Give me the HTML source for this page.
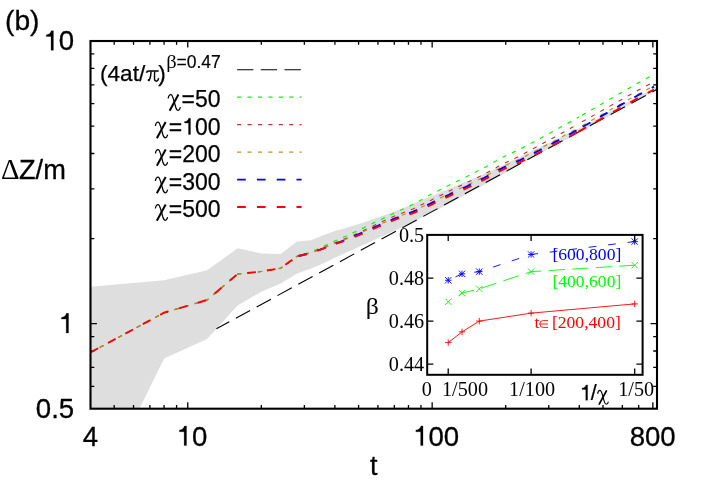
<!DOCTYPE html>
<html><head><meta charset="utf-8"><title>chart</title>
<style>html,body{margin:0;padding:0;background:#fff;width:706px;height:494px;overflow:hidden}</style>
</head><body>
<div style="position:absolute;left:0;top:0;width:706px;height:494px;will-change:transform">
<svg width="706" height="494" viewBox="0 0 706 494" style="position:absolute;left:0;top:0">
<rect width="706" height="494" fill="#fff"/>
<polygon fill="#dedede" points="90.5,286.7 164.1,280.3 207.1,270.3 237.6,248.3 261.3,253.5 280.7,254.0 297.0,241.5 311.2,240.2 323.7,235.1 334.9,230.9 342.5,228.9 363.7,222.5 399.2,209.7 440.0,192.5 490.0,171.5 530.0,152.0 580.0,127.7 657.0,86.5 657.0,89.6 580.0,132.3 530.0,158.5 490.0,181.8 440.0,208.5 400.0,228.2 373.7,240.2 334.9,257.7 323.7,263.2 311.2,268.6 297.0,273.6 280.7,283.5 261.3,291.7 237.6,305.6 207.1,339.0 164.1,358.5 139.4,408.7 90.5,408.7"/>
<path d="M114.18 408.70 v-3.80 M114.18 41.00 v3.80 M133.54 408.70 v-3.80 M133.54 41.00 v3.80 M149.90 408.70 v-3.80 M149.90 41.00 v3.80 M164.07 408.70 v-3.80 M164.07 41.00 v3.80 M176.57 408.70 v-3.80 M176.57 41.00 v3.80 M187.76 408.70 v-6.40 M187.76 41.00 v6.40 M261.33 408.70 v-3.80 M261.33 41.00 v3.80 M304.36 408.70 v-3.80 M304.36 41.00 v3.80 M334.90 408.70 v-3.80 M334.90 41.00 v3.80 M358.58 408.70 v-3.80 M358.58 41.00 v3.80 M377.94 408.70 v-3.80 M377.94 41.00 v3.80 M394.30 408.70 v-3.80 M394.30 41.00 v3.80 M408.47 408.70 v-3.80 M408.47 41.00 v3.80 M420.97 408.70 v-3.80 M420.97 41.00 v3.80 M432.16 408.70 v-6.40 M432.16 41.00 v6.40 M505.73 408.70 v-3.80 M505.73 41.00 v3.80 M548.76 408.70 v-3.80 M548.76 41.00 v3.80 M579.30 408.70 v-3.80 M579.30 41.00 v3.80 M602.98 408.70 v-3.80 M602.98 41.00 v3.80 M622.34 408.70 v-3.80 M622.34 41.00 v3.80 M638.70 408.70 v-3.80 M638.70 41.00 v3.80 M652.87 408.70 v-6.40 M652.87 41.00 v6.40 M90.50 386.32 h3.80 M657.00 386.32 h-3.80 M90.50 367.40 h3.80 M657.00 367.40 h-3.80 M90.50 351.02 h3.80 M657.00 351.02 h-3.80 M90.50 336.56 h3.80 M657.00 336.56 h-3.80 M90.50 323.63 h6.40 M657.00 323.63 h-6.40 M90.50 238.56 h3.80 M657.00 238.56 h-3.80 M90.50 188.79 h3.80 M657.00 188.79 h-3.80 M90.50 153.49 h3.80 M657.00 153.49 h-3.80 M90.50 126.10 h3.80 M657.00 126.10 h-3.80 M90.50 103.72 h3.80 M657.00 103.72 h-3.80 M90.50 84.80 h3.80 M657.00 84.80 h-3.80 M90.50 68.42 h3.80 M657.00 68.42 h-3.80 M90.50 53.96 h3.80 M657.00 53.96 h-3.80 " stroke="#000" stroke-width="1.3" fill="none"/>
<path d="M216.40 328.80 L229.32 321.78 M235.82 318.25 L250.14 310.46 M256.64 306.93 L270.96 299.15 M277.46 295.61 L291.79 287.83 M298.29 284.29 L312.61 276.51 M319.11 272.98 L333.43 265.19 M339.93 261.66 L354.25 253.88 M360.76 250.34 L375.08 242.56 M381.58 239.02 L395.90 231.24 M402.40 227.71 L416.72 219.92 M423.23 216.39 L437.55 208.61 M444.05 205.07 L458.37 197.29 M464.87 193.76 L479.19 185.97 M485.70 182.44 L500.02 174.65 M506.52 171.12 L520.84 163.34 M527.34 159.80 L541.66 152.02 M548.17 148.49 L562.49 140.70 M568.99 137.17 L583.31 129.38 M589.81 125.85 L604.13 118.07 M610.64 114.53 L624.96 106.75 M631.46 103.22 L645.78 95.43 M652.28 91.90 L657.00 89.33 " stroke="#000" stroke-width="1.1" fill="none"/>
<path d="M90.50 352.40 L94.20 350.41 M99.74 347.42 L103.44 345.42 M108.98 342.43 L112.68 340.44 M118.22 337.45 L121.92 335.45 M127.47 332.46 L131.16 330.47 M136.71 327.48 L140.40 325.48 M145.95 322.49 L149.64 320.50 M155.19 317.51 L158.89 315.51 M164.46 312.59 L168.49 311.40 M174.53 309.62 L178.56 308.43 M184.60 306.65 L188.63 305.46 M194.67 303.67 L198.70 302.48 M204.74 300.70 L207.10 300.00 L208.42 298.87 M213.22 294.78 L216.41 292.06 M221.21 287.97 L224.40 285.25 M229.20 281.16 L232.40 278.44 M237.19 274.35 L237.60 274.00 L241.24 273.62 M247.51 272.96 L251.68 272.51 M257.95 271.85 L261.30 271.50 L262.12 271.36 M268.33 270.30 L272.47 269.60 M278.68 268.54 L280.70 268.20 L282.44 266.93 M287.53 263.22 L290.92 260.74 M296.01 257.03 L297.00 256.30 M297.00 256.30 L298.40 255.86 M304.42 253.98 L308.42 252.73 M314.29 250.46 L318.11 248.71 M323.84 246.09 L327.64 244.32 M333.35 241.65 L334.90 240.93 L337.22 240.01 M343.02 237.57 L346.82 235.78 M352.52 233.09 L356.32 231.30 M362.01 228.60 L365.78 226.76 M371.44 223.99 L375.22 222.15 M380.90 219.43 L384.70 217.63 M390.39 214.93 L394.18 213.13 M399.92 210.53 L403.73 208.76 M409.44 206.10 L413.25 204.33 M418.74 201.25 L422.40 199.19 M427.89 196.10 L431.00 194.35 L431.10 194.30 L431.56 194.06 M437.18 191.21 L440.92 189.30 M446.54 186.45 L448.80 185.30 L450.30 184.57 M455.96 181.82 L459.74 179.98 M465.41 177.23 L466.50 176.70 L469.16 175.34 M474.78 172.49 L478.52 170.58 M484.14 167.73 L484.20 167.69 L487.79 165.65 M493.26 162.53 L496.91 160.46 M502.39 157.34 L502.70 157.16 L506.18 155.54 M511.90 152.89 L515.70 151.12 M521.38 148.38 L525.09 146.42 M530.66 143.47 L534.37 141.51 M539.91 138.51 L543.59 136.49 M549.12 133.46 L552.80 131.44 M558.31 128.38 L560.00 127.44 L561.99 126.37 M567.54 123.38 L571.23 121.38 M576.71 118.26 L579.00 116.95 M582.00 115.23 L585.64 113.14 M591.11 110.00 L594.75 107.91 M600.22 104.78 L603.86 102.69 M609.32 99.55 L612.97 97.46 M618.43 94.33 L622.07 92.24 M627.54 89.10 L631.18 87.01 M636.65 83.88 L638.00 83.10 L640.31 81.83 M645.84 78.81 L649.53 76.79 " stroke="#00ff00" stroke-width="1.2" fill="none"/>
<path d="M90.50 352.40 L94.20 350.41 M99.74 347.42 L103.44 345.42 M108.98 342.43 L112.68 340.44 M118.22 337.45 L121.92 335.45 M127.47 332.46 L131.16 330.47 M136.71 327.48 L140.40 325.48 M145.95 322.49 L149.64 320.50 M155.19 317.51 L158.89 315.51 M164.46 312.59 L168.49 311.40 M174.53 309.62 L178.56 308.43 M184.60 306.65 L188.63 305.46 M194.67 303.67 L198.70 302.48 M204.74 300.70 L207.10 300.00 L208.42 298.87 M213.22 294.78 L216.41 292.06 M221.21 287.97 L224.40 285.25 M229.20 281.16 L232.40 278.44 M237.19 274.35 L237.60 274.00 L241.24 273.62 M247.51 272.96 L251.68 272.51 M257.95 271.85 L261.30 271.50 L262.12 271.36 M268.33 270.30 L272.47 269.60 M278.68 268.54 L280.70 268.20 L282.44 266.93 M287.53 263.22 L290.92 260.74 M296.01 257.03 L297.00 256.30 M297.00 256.30 L298.43 255.97 M304.53 254.40 L308.59 253.32 M314.53 251.26 L318.42 249.67 M324.25 247.28 L328.12 245.66 M333.91 243.18 L334.90 242.75 L337.84 241.68 M343.69 239.35 L347.53 237.66 M353.30 235.13 L357.14 233.44 M362.86 230.78 L366.65 228.98 M372.34 226.28 L376.14 224.48 M381.85 221.83 L385.67 220.07 M391.39 217.43 L394.50 216.00 L395.22 215.71 M401.09 213.43 L405.01 211.94 M410.90 209.69 L413.40 208.74 L414.78 208.08 M420.44 205.33 L424.22 203.49 M429.88 200.73 L431.10 200.14 L433.64 198.86 M439.27 196.03 L443.02 194.14 M448.65 191.30 L448.80 191.22 L452.43 189.48 M458.13 186.79 L461.94 185.02 M467.63 182.33 L471.41 180.49 M477.07 177.72 L480.84 175.87 M486.44 173.00 L490.12 170.98 M495.65 167.94 L499.00 166.10 L499.32 165.91 M504.87 162.93 L508.66 161.14 M514.36 158.44 L518.16 156.65 M523.74 153.74 L527.44 151.75 M532.99 148.77 L536.00 147.15 L536.69 146.79 M542.23 143.79 L545.93 141.78 M551.46 138.78 L554.40 137.19 L555.15 136.78 M560.67 133.74 L564.35 131.71 M569.87 128.67 L571.80 127.60 L572.00 127.49 L573.54 126.62 M582.00 121.85 L585.66 119.79 M591.15 116.70 L594.81 114.64 M600.30 111.54 L603.95 109.48 M609.44 106.39 L613.10 104.33 M618.59 101.24 L622.25 99.17 M627.74 96.08 L631.40 94.02 M636.89 90.93 L638.00 90.30 L640.58 88.93 M646.14 85.97 L649.85 84.00 " stroke="#c03030" stroke-width="1.1" fill="none"/>
<path d="M90.50 352.40 L94.20 350.41 M99.74 347.42 L103.44 345.42 M108.98 342.43 L112.68 340.44 M118.22 337.45 L121.92 335.45 M127.47 332.46 L131.16 330.47 M136.71 327.48 L140.40 325.48 M145.95 322.49 L149.64 320.50 M155.19 317.51 L158.89 315.51 M164.46 312.59 L168.49 311.40 M174.53 309.62 L178.56 308.43 M184.60 306.65 L188.63 305.46 M194.67 303.67 L198.70 302.48 M204.74 300.70 L207.10 300.00 L208.42 298.87 M213.22 294.78 L216.41 292.06 M221.21 287.97 L224.40 285.25 M229.20 281.16 L232.40 278.44 M237.19 274.35 L237.60 274.00 L241.24 273.62 M247.51 272.96 L251.68 272.51 M257.95 271.85 L261.30 271.50 L262.12 271.36 M268.33 270.30 L272.47 269.60 M278.68 268.54 L280.70 268.20 L282.44 266.93 M287.53 263.22 L290.92 260.74 M296.01 257.03 L297.00 256.30 M297.00 256.30 L298.43 255.97 M304.57 254.54 L308.66 253.59 M314.65 251.70 L318.59 250.22 M324.42 247.86 L328.29 246.23 M334.10 243.78 L334.90 243.44 L338.05 242.34 M343.92 240.07 L347.78 238.43 M353.58 235.96 L357.45 234.32 M363.20 231.75 L367.04 230.05 M372.79 227.48 L376.63 225.77 M382.41 223.27 L386.26 221.60 M392.04 219.10 L394.50 218.04 L395.93 217.50 M401.83 215.29 L405.76 213.81 M411.65 211.59 L413.40 210.94 L415.51 209.94 M421.20 207.24 L425.00 205.44 M430.69 202.74 L431.10 202.55 L434.47 200.90 M440.12 198.12 L443.89 196.27 M449.55 193.51 L453.36 191.73 M459.06 189.05 L462.86 187.27 M468.55 184.55 L472.31 182.69 M477.97 179.91 L481.73 178.06 M487.31 175.12 L490.98 173.09 M496.50 170.04 L500.17 168.01 M505.81 165.22 L509.65 163.50 M515.40 160.93 L519.23 159.21 M524.85 156.36 L528.00 154.75 L528.59 154.45 M534.18 151.56 L536.70 150.26 L537.91 149.61 M543.46 146.64 L547.16 144.65 M552.71 141.68 L554.40 140.77 L556.41 139.68 M561.94 136.66 L565.00 135.00 L565.63 134.66 M571.21 131.74 L571.80 131.43 L574.89 129.70 M582.00 125.72 L585.67 123.67 M591.16 120.60 L594.83 118.55 M600.33 115.47 L603.99 113.42 M609.49 110.35 L613.16 108.30 M618.66 105.22 L622.32 103.17 M627.82 100.09 L631.49 98.04 M636.98 94.97 L638.00 94.40 L640.68 92.98 M646.24 90.02 L649.95 88.05 " stroke="#ba8f25" stroke-width="1.2" fill="none"/>
<path d="M298.43 255.97 L306.91 254.00 M317.46 250.65 L323.70 248.30 L325.60 247.57 M335.92 243.49 L341.00 241.73 L344.07 240.44 M354.30 236.14 L358.80 234.24 L360.00 233.68 L362.28 232.67 M372.43 228.19 L377.20 226.09 L380.41 224.72 M390.61 220.35 L394.50 218.68 L398.69 217.13 M409.10 213.26 L413.40 211.66 L417.12 209.92 M427.17 205.20 L431.10 203.35 L435.01 201.45 M445.00 196.59 L448.80 194.74 L452.85 192.86 M462.93 188.19 L466.50 186.53 L470.78 184.45 M480.77 179.60 L484.20 177.93 L488.48 175.59 M498.23 170.27 L502.70 167.83 L506.00 166.37 M516.15 161.90 L519.70 160.33 L524.00 158.15 M533.91 153.15 L536.70 151.73 L541.63 149.14 M551.46 143.98 L554.40 142.43 L559.14 139.90 M568.92 134.64 L571.80 133.08 L576.50 130.38 M582.80 126.77 L590.35 122.45 M599.98 116.92 L607.52 112.60 M617.15 107.07 L620.00 105.44 L624.71 102.77 M634.37 97.30 L638.00 95.25 L642.00 93.12 M651.79 87.88 L654.00 86.70 " stroke="#0000ff" stroke-width="1.9" fill="none"/>
<path d="M90.50 352.40 L98.16 348.27 M107.93 343.00 L115.58 338.87 M125.35 333.60 L133.01 329.47 M142.78 324.20 L150.44 320.07 M160.21 314.80 L164.10 312.70 L168.20 311.49 M178.85 308.34 L187.19 305.88 M197.83 302.74 L206.18 300.27 M214.82 293.42 L221.44 287.78 M229.88 280.58 L236.51 274.93 M247.21 272.99 L255.86 272.07 M266.85 270.56 L275.43 269.10 M285.34 264.81 L292.37 259.68 M298.43 255.97 L306.91 254.00 M317.46 250.65 L323.70 248.30 L325.60 247.57 M335.99 243.66 L341.00 242.10 L344.22 240.85 M354.57 236.84 L358.80 235.20 L362.61 233.54 M372.79 229.12 L377.20 227.20 L380.79 225.69 M391.02 221.37 L394.50 219.90 L399.12 218.21 M409.55 214.41 L413.40 213.00 L417.57 211.07 M427.64 206.40 L431.10 204.80 L435.51 202.68 M445.52 197.88 L448.80 196.30 L453.40 194.20 M463.49 189.58 L466.50 188.20 L471.36 185.87 M481.37 181.06 L484.20 179.70 L489.09 177.06 M498.85 171.78 L502.70 169.70 L506.67 167.97 M516.84 163.54 L519.70 162.30 L524.70 159.80 M534.62 154.84 L536.70 153.80 L542.36 150.86 M552.21 145.74 L554.40 144.60 L559.91 141.69 M569.72 136.50 L571.80 135.40 L577.33 132.28 M578.60 131.57 L586.18 127.30 M595.85 121.85 L603.43 117.58 M613.10 112.13 L620.68 107.86 M630.35 102.41 L637.93 98.14 M647.73 92.93 L654.00 89.59 " stroke="#ff0000" stroke-width="1.9" fill="none"/>
<path d="M237.10 69.75 L253.40 69.75 M260.80 69.75 L277.10 69.75 M284.50 69.75 L300.80 69.75 " stroke="#000" stroke-width="1.05" fill="none"/>
<path d="M237.10 97.20 L241.20 97.20 M247.52 97.20 L251.62 97.20 M257.94 97.20 L262.04 97.20 M268.36 97.20 L272.46 97.20 M278.78 97.20 L282.88 97.20 M289.20 97.20 L293.30 97.20 M299.62 97.20 L301.60 97.20 " stroke="#00ff00" stroke-width="1.2" fill="none"/>
<path d="M237.10 124.60 L241.20 124.60 M247.52 124.60 L251.62 124.60 M257.94 124.60 L262.04 124.60 M268.36 124.60 L272.46 124.60 M278.78 124.60 L282.88 124.60 M289.20 124.60 L293.30 124.60 M299.62 124.60 L301.60 124.60 " stroke="#c03030" stroke-width="1.1" fill="none"/>
<path d="M237.10 152.20 L241.20 152.20 M247.52 152.20 L251.62 152.20 M257.94 152.20 L262.04 152.20 M268.36 152.20 L272.46 152.20 M278.78 152.20 L282.88 152.20 M289.20 152.20 L293.30 152.20 M299.62 152.20 L301.60 152.20 " stroke="#ba8f25" stroke-width="1.3" fill="none"/>
<path d="M237.10 179.60 L245.80 179.60 M256.90 179.60 L265.60 179.60 M276.70 179.60 L285.40 179.60 M296.50 179.60 L301.60 179.60 " stroke="#0000ff" stroke-width="1.85" fill="none"/>
<path d="M237.10 207.00 L245.80 207.00 M256.90 207.00 L265.60 207.00 M276.70 207.00 L285.40 207.00 M296.50 207.00 L301.60 207.00 " stroke="#ff0000" stroke-width="1.85" fill="none"/>
<rect x="90.50" y="41.00" width="566.50" height="367.70" fill="none" stroke="#000" stroke-width="2.1"/>
<path d="M455.47 276.87 L462.03 273.80 L462.58 273.73 M474.29 272.27 L479.30 271.65 L481.91 270.78 M493.11 267.06 L500.52 264.61 M511.71 260.89 L519.12 258.43 M530.32 254.71 L531.10 254.45 L538.02 253.59 M549.73 252.13 L557.47 251.17 M569.18 249.71 L576.92 248.74 M588.63 247.29 L596.37 246.32 M608.08 244.86 L615.82 243.90 M627.53 242.44 L634.70 241.55 " stroke="#0000ff" stroke-width="0.9" fill="none"/>
<path d="M458.75 295.20 L462.03 293.15 L473.90 290.19 M481.04 288.27 L496.32 283.20 M503.34 280.87 L518.62 275.79 M525.65 273.46 L531.10 271.65 L541.43 271.01 M548.82 270.55 L564.89 269.55 M572.27 269.09 L588.34 268.09 M595.73 267.63 L611.80 266.63 M619.18 266.17 L634.70 265.20 " stroke="#00ff00" stroke-width="0.9" fill="none"/>
<path d="M448.22 342.60 L462.03 331.85 L479.30 321.10 L531.10 313.14 L634.70 303.90" stroke="#ff0000" stroke-width="0.9" fill="none"/>
<path d="M445.02 280.25 h6.40 M448.22 277.05 v6.40 M445.02 277.05 l6.40 6.40 M445.02 283.45 l6.40 -6.40 M458.83 273.80 h6.40 M462.03 270.60 v6.40 M458.83 270.60 l6.40 6.40 M458.83 277.00 l6.40 -6.40 M476.10 271.65 h6.40 M479.30 268.45 v6.40 M476.10 268.45 l6.40 6.40 M476.10 274.85 l6.40 -6.40 M527.90 254.45 h6.40 M531.10 251.25 v6.40 M527.90 251.25 l6.40 6.40 M527.90 257.65 l6.40 -6.40 M631.50 241.55 h6.40 M634.70 238.35 v6.40 M631.50 238.35 l6.40 6.40 M631.50 244.75 l6.40 -6.40 " stroke="#0000ff" stroke-width="0.9" fill="none"/>
<path d="M445.02 298.55 l6.40 6.40 M445.02 304.95 l6.40 -6.40 M458.83 289.95 l6.40 6.40 M458.83 296.35 l6.40 -6.40 M476.10 285.65 l6.40 6.40 M476.10 292.05 l6.40 -6.40 M527.90 268.45 l6.40 6.40 M527.90 274.85 l6.40 -6.40 M631.50 262.00 l6.40 6.40 M631.50 268.40 l6.40 -6.40 " stroke="#00ff00" stroke-width="0.9" fill="none"/>
<path d="M445.02 342.60 h6.40 M448.22 339.40 v6.40 M458.83 331.85 h6.40 M462.03 328.65 v6.40 M476.10 321.10 h6.40 M479.30 317.90 v6.40 M527.90 313.14 h6.40 M531.10 309.94 v6.40 M631.50 303.90 h6.40 M634.70 300.70 v6.40 " stroke="#ff0000" stroke-width="0.9" fill="none"/>
<path d="M448.22 374.80 v-6.2 M448.22 234.90 v6.2 M531.10 374.80 v-6.2 M531.10 234.90 v6.2 M634.70 374.80 v-6.2 M634.70 234.90 v6.2 M427.20 364.10 h6.2 M642.60 364.10 h-6.2 M427.20 321.10 h6.2 M642.60 321.10 h-6.2 M427.20 278.10 h6.2 M642.60 278.10 h-6.2 " stroke="#000" stroke-width="1.3" fill="none"/>
<rect x="427.20" y="234.90" width="215.40" height="139.90" fill="none" stroke="#000" stroke-width="2.0"/>
<text x="5.00" y="29.70" style="font-family:'Liberation Sans',sans-serif;font-size:28.20px" text-anchor="start" fill="#000" stroke="#000" stroke-width="0.31" >(b)</text>
<path d="M53.42 50.30 L51.04 50.30 L51.04 36.50 L46.30 36.50 L46.30 34.79 C48.75 34.71 50.41 33.46 51.37 30.73 L53.42 30.73 Z" fill="#000" stroke="#000" stroke-width="0.25"/>
<text x="58.85" y="50.30" style="font-family:'Liberation Sans',sans-serif;font-size:27.60px" text-anchor="start" fill="#000" stroke="#000" stroke-width="0.30" >0</text>
<path d="M68.56 332.90 L66.19 332.90 L66.19 319.10 L61.44 319.10 L61.44 317.39 C63.90 317.31 65.55 316.06 66.52 313.33 L68.56 313.33 Z" fill="#000" stroke="#000" stroke-width="0.25"/>
<text x="74.20" y="418.20" style="font-family:'Liberation Sans',sans-serif;font-size:27.60px" text-anchor="end" fill="#000" stroke="#000" stroke-width="0.30" >0.5</text>
<text transform="translate(0.95 179.00) scale(0.975 1)" style="font-family:'Liberation Serif',serif;font-size:29.60px" fill="#000">Δ</text>
<text x="19.00" y="179.00" style="font-family:'Liberation Sans',sans-serif;font-size:27.20px" text-anchor="start" fill="#000" stroke="#000" stroke-width="0.30" >Z/m</text>
<text x="90.50" y="445.60" style="font-family:'Liberation Sans',sans-serif;font-size:27.60px" text-anchor="middle" fill="#000" stroke="#000" stroke-width="0.30" >4</text>
<path d="M186.51 445.60 L184.13 445.60 L184.13 431.80 L179.39 431.80 L179.39 430.09 C181.84 430.01 183.50 428.76 184.47 426.03 L186.51 426.03 Z" fill="#000" stroke="#000" stroke-width="0.25"/>
<text x="191.95" y="445.60" style="font-family:'Liberation Sans',sans-serif;font-size:27.60px" text-anchor="start" fill="#000" stroke="#000" stroke-width="0.30" >0</text>
<path d="M423.01 445.60 L420.63 445.60 L420.63 431.80 L415.89 431.80 L415.89 430.09 C418.34 430.01 420.00 428.76 420.97 426.03 L423.01 426.03 Z" fill="#000" stroke="#000" stroke-width="0.25"/>
<text x="428.45" y="445.60" style="font-family:'Liberation Sans',sans-serif;font-size:27.60px" text-anchor="start" fill="#000" stroke="#000" stroke-width="0.30" >00</text>
<text x="652.70" y="445.60" style="font-family:'Liberation Sans',sans-serif;font-size:27.60px" text-anchor="middle" fill="#000" stroke="#000" stroke-width="0.30" >800</text>
<text x="373.80" y="475.40" style="font-family:'Liberation Sans',sans-serif;font-size:27.00px" text-anchor="middle" fill="#000" stroke="#000" stroke-width="0.30" >t</text>
<text x="100.00" y="81.10" style="font-family:'Liberation Sans',sans-serif;font-size:22.60px" text-anchor="start" fill="#000" stroke="#000" stroke-width="0.25" >(4at/</text>
<g fill="none" stroke="#000"><path d="M146.5 72.8 C146.9 71.3 147.7 71.0 148.8 71.0 L158.7 71.0" stroke-width="1.7"/><path d="M151.1 71.4 C150.9 75 150.4 78 149.3 80.0" stroke-width="1.4"/><circle cx="148.8" cy="80.2" r="1.15" fill="#000" stroke="none"/><path d="M154.6 71.4 L154.5 78.6 C154.5 80.6 155.3 81.2 156.4 81.2 C157.6 81.2 158.3 79.8 158.6 78.2" stroke-width="1.4"/></g>
<text x="158.30" y="81.10" style="font-family:'Liberation Sans',sans-serif;font-size:22.60px" text-anchor="start" fill="#000" stroke="#000" stroke-width="0.25" >)</text>
<text transform="translate(166.37 67.70) scale(1.100 1)" style="font-family:'Liberation Serif',serif;font-size:18.60px" fill="#000">β</text>
<text x="176.50" y="67.60" style="font-family:'Liberation Sans',sans-serif;font-size:17.50px" text-anchor="start" fill="#000" stroke="#000" stroke-width="0.19" >=0.47</text>
<text x="181.59" y="107.00" style="font-family:'Liberation Sans',sans-serif;font-size:23.00px" text-anchor="start" fill="#000" stroke="#000" stroke-width="0.25" >=50</text>
<g transform="translate(167.89 106.50) scale(1.000)" fill="none" stroke="#000" stroke-linecap="butt"><path d="M0.25 -8.0 C0.6 -10.2 1.6 -12.0 2.9 -12.0 C4.0 -12.0 4.8 -10.2 5.57 -7.3 L7.76 0.5 C8.4 2.6 9.1 3.8 10.18 3.8 C11.3 3.8 12.1 2.4 12.5 0.7" stroke-width="1.25"/><path d="M10.55 -11.9 L1.75 4.3" stroke-width="2.0"/></g>
<text x="168.80" y="134.50" style="font-family:'Liberation Sans',sans-serif;font-size:23.00px" text-anchor="start" fill="#000" stroke="#000" stroke-width="0.25" >=</text>
<path d="M190.49 134.50 L188.51 134.50 L188.51 123.00 L184.56 123.00 L184.56 121.57 C186.61 121.50 187.99 120.47 188.79 118.19 L190.49 118.19 Z" fill="#000" stroke="#000" stroke-width="0.25"/>
<text x="195.02" y="134.50" style="font-family:'Liberation Sans',sans-serif;font-size:23.00px" text-anchor="start" fill="#000" stroke="#000" stroke-width="0.25" >00</text>
<g transform="translate(155.10 134.00) scale(1.000)" fill="none" stroke="#000" stroke-linecap="butt"><path d="M0.25 -8.0 C0.6 -10.2 1.6 -12.0 2.9 -12.0 C4.0 -12.0 4.8 -10.2 5.57 -7.3 L7.76 0.5 C8.4 2.6 9.1 3.8 10.18 3.8 C11.3 3.8 12.1 2.4 12.5 0.7" stroke-width="1.25"/><path d="M10.55 -11.9 L1.75 4.3" stroke-width="2.0"/></g>
<text x="168.80" y="162.00" style="font-family:'Liberation Sans',sans-serif;font-size:23.00px" text-anchor="start" fill="#000" stroke="#000" stroke-width="0.25" >=200</text>
<g transform="translate(155.10 161.50) scale(1.000)" fill="none" stroke="#000" stroke-linecap="butt"><path d="M0.25 -8.0 C0.6 -10.2 1.6 -12.0 2.9 -12.0 C4.0 -12.0 4.8 -10.2 5.57 -7.3 L7.76 0.5 C8.4 2.6 9.1 3.8 10.18 3.8 C11.3 3.8 12.1 2.4 12.5 0.7" stroke-width="1.25"/><path d="M10.55 -11.9 L1.75 4.3" stroke-width="2.0"/></g>
<text x="168.80" y="189.50" style="font-family:'Liberation Sans',sans-serif;font-size:23.00px" text-anchor="start" fill="#000" stroke="#000" stroke-width="0.25" >=300</text>
<g transform="translate(155.10 189.00) scale(1.000)" fill="none" stroke="#000" stroke-linecap="butt"><path d="M0.25 -8.0 C0.6 -10.2 1.6 -12.0 2.9 -12.0 C4.0 -12.0 4.8 -10.2 5.57 -7.3 L7.76 0.5 C8.4 2.6 9.1 3.8 10.18 3.8 C11.3 3.8 12.1 2.4 12.5 0.7" stroke-width="1.25"/><path d="M10.55 -11.9 L1.75 4.3" stroke-width="2.0"/></g>
<text x="168.80" y="217.00" style="font-family:'Liberation Sans',sans-serif;font-size:23.00px" text-anchor="start" fill="#000" stroke="#000" stroke-width="0.25" >=500</text>
<g transform="translate(155.10 216.50) scale(1.000)" fill="none" stroke="#000" stroke-linecap="butt"><path d="M0.25 -8.0 C0.6 -10.2 1.6 -12.0 2.9 -12.0 C4.0 -12.0 4.8 -10.2 5.57 -7.3 L7.76 0.5 C8.4 2.6 9.1 3.8 10.18 3.8 C11.3 3.8 12.1 2.4 12.5 0.7" stroke-width="1.25"/><path d="M10.55 -11.9 L1.75 4.3" stroke-width="2.0"/></g>
<text x="424.20" y="242.30" style="font-family:'Liberation Serif',serif;font-size:20.20px" text-anchor="end" fill="#000" stroke="#000" stroke-width="0.00" >0.5</text>
<text x="424.20" y="285.30" style="font-family:'Liberation Serif',serif;font-size:20.20px" text-anchor="end" fill="#000" stroke="#000" stroke-width="0.00" >0.48</text>
<text x="424.20" y="328.30" style="font-family:'Liberation Serif',serif;font-size:20.20px" text-anchor="end" fill="#000" stroke="#000" stroke-width="0.00" >0.46</text>
<text x="424.20" y="371.30" style="font-family:'Liberation Serif',serif;font-size:20.20px" text-anchor="end" fill="#000" stroke="#000" stroke-width="0.00" >0.44</text>
<text x="426.80" y="395.80" style="font-family:'Liberation Serif',serif;font-size:20.20px" text-anchor="middle" fill="#000" stroke="#000" stroke-width="0.00" >0</text>
<text x="465.00" y="395.80" style="font-family:'Liberation Serif',serif;font-size:20.20px" text-anchor="middle" fill="#000" stroke="#000" stroke-width="0.00" >1/500</text>
<text x="532.10" y="395.80" style="font-family:'Liberation Serif',serif;font-size:20.20px" text-anchor="middle" fill="#000" stroke="#000" stroke-width="0.00" >1/100</text>
<text x="636.20" y="395.80" style="font-family:'Liberation Serif',serif;font-size:20.20px" text-anchor="middle" fill="#000" stroke="#000" stroke-width="0.00" >1/50</text>
<text transform="translate(365.73 314.20) scale(1.120 1)" style="font-family:'Liberation Serif',serif;font-size:23.00px" fill="#000">β</text>
<path d="M587.62 400.20 L585.77 400.20 L585.77 389.45 L582.07 389.45 L582.07 388.12 C583.99 388.05 585.27 387.08 586.03 384.96 L587.62 384.96 Z" fill="#000" stroke="#000" stroke-width="0.25"/>
<text x="590.85" y="400.20" style="font-family:'Liberation Sans',sans-serif;font-size:21.50px" text-anchor="start" fill="#000" stroke="#000" stroke-width="0.24" >/</text>
<g transform="translate(597.40 400.90) scale(0.880)" fill="none" stroke="#000" stroke-linecap="butt"><path d="M0.25 -8.0 C0.6 -10.2 1.6 -12.0 2.9 -12.0 C4.0 -12.0 4.8 -10.2 5.57 -7.3 L7.76 0.5 C8.4 2.6 9.1 3.8 10.18 3.8 C11.3 3.8 12.1 2.4 12.5 0.7" stroke-width="1.25"/><path d="M10.55 -11.9 L1.75 4.3" stroke-width="2.0"/></g>
<text x="621.30" y="259.90" style="font-family:'Liberation Serif',serif;font-size:17.60px" text-anchor="end" fill="#0000ff" stroke="#0000ff" stroke-width="0.00" >[600,800]</text>
<text x="621.30" y="286.50" style="font-family:'Liberation Serif',serif;font-size:17.60px" text-anchor="end" fill="#00ff00" stroke="#00ff00" stroke-width="0.00" >[400,600]</text>
<text x="620.80" y="328.00" style="font-family:'Liberation Serif',serif;font-size:17.60px" text-anchor="end" fill="#ff0000" stroke="#ff0000" stroke-width="0.00" >[200,400]</text>
<text x="534.60" y="328.00" style="font-family:'Liberation Serif',serif;font-size:17.60px" text-anchor="start" fill="#ff0000" stroke="#ff0000" stroke-width="0.00" >t</text>
<path d="M548.0 320.6 H543.2 a3.4 3.4 0 0 0 0 6.8 H548.0 M539.9 324.0 H548.0" stroke="#ff0000" stroke-width="0.9" fill="none"/>
</svg>
</div>
</body></html>
